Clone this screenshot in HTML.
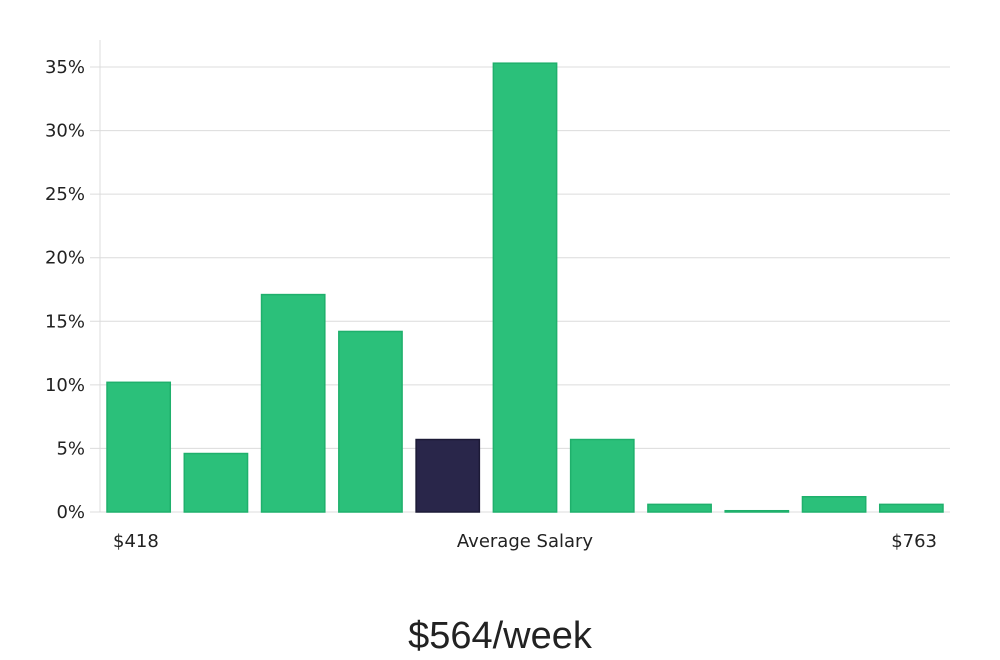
<!DOCTYPE html>
<html><head><meta charset="utf-8"><style>
html,body{margin:0;padding:0;background:#fff;}
svg{display:block;font-family:"DejaVu Sans","Liberation Sans",sans-serif;}
</style></head><body>
<svg id="chart" width="1000" height="660" viewBox="0 0 1000 660">
<g id="grid"></g>
<g id="yticks"></g>
<line x1="100" y1="40" x2="100" y2="512" stroke="#dcdcdc" stroke-width="1"/>
<g id="bars"></g>
<text x="113" y="547" font-size="18" fill="#222">$418</text>
<text x="525" y="547" font-size="18" fill="#222" text-anchor="middle">Average Salary</text>
<text x="937" y="547" font-size="18" fill="#222" text-anchor="end">$763</text>
<text x="500" y="648" font-size="38" fill="#222" text-anchor="middle" font-family="Liberation Sans, sans-serif" style="font-weight:300">$564/week</text>
</svg>
<script>
const values = [10.2, 4.6, 17.1, 14.2, 5.7, 35.3, 5.7, 0.6, 0.1, 1.2, 0.6];
const highlightIndex = 4;
const yTicks = [0, 5, 10, 15, 20, 25, 30, 35];
const yTickLabels = ["0%", "5%", "10%", "15%", "20%", "25%", "30%", "35%"];

const NS = "http://www.w3.org/2000/svg";
const x0 = 100, x1 = 950, yBase = 512, pxPer = 445 / 35;
const y = v => yBase - v * pxPer;
const slot = (x1 - x0) / values.length;
const xBand = i => x0 + i * slot + 7;
const bw = slot - 14;

const grid = document.getElementById('grid');
const yt = document.getElementById('yticks');
yTicks.forEach((t, i) => {
  const l = document.createElementNS(NS, 'line');
  l.setAttribute('x1', 90); l.setAttribute('x2', x1);
  l.setAttribute('y1', y(t)); l.setAttribute('y2', y(t));
  l.setAttribute('stroke', '#dcdcdc'); l.setAttribute('stroke-width', '1');
  
  
  grid.appendChild(l);
  const tx = document.createElementNS(NS, 'text');
  tx.setAttribute('x', 85); tx.setAttribute('y', y(t) + 6);
  tx.setAttribute('text-anchor', 'end'); tx.setAttribute('font-size', '18');
  tx.setAttribute('fill', '#222');
  tx.textContent = yTickLabels[i];
  
  
  yt.appendChild(tx);
});
const bars = document.getElementById('bars');
values.forEach((v, i) => {
  const r = document.createElementNS(NS, 'rect');
  r.setAttribute('x', xBand(i)); r.setAttribute('width', bw);
  r.setAttribute('y', y(v)); r.setAttribute('height', Math.max(1, yBase - y(v)));
  const hi = i === highlightIndex;
  r.setAttribute('fill', hi ? '#29264a' : '#2bc07a');
  r.setAttribute('stroke', hi ? '#1c1a36' : '#1fb06c');
  r.setAttribute('stroke-width', '1.5');
  
  
  bars.appendChild(r);
});
</script>
</body></html>
